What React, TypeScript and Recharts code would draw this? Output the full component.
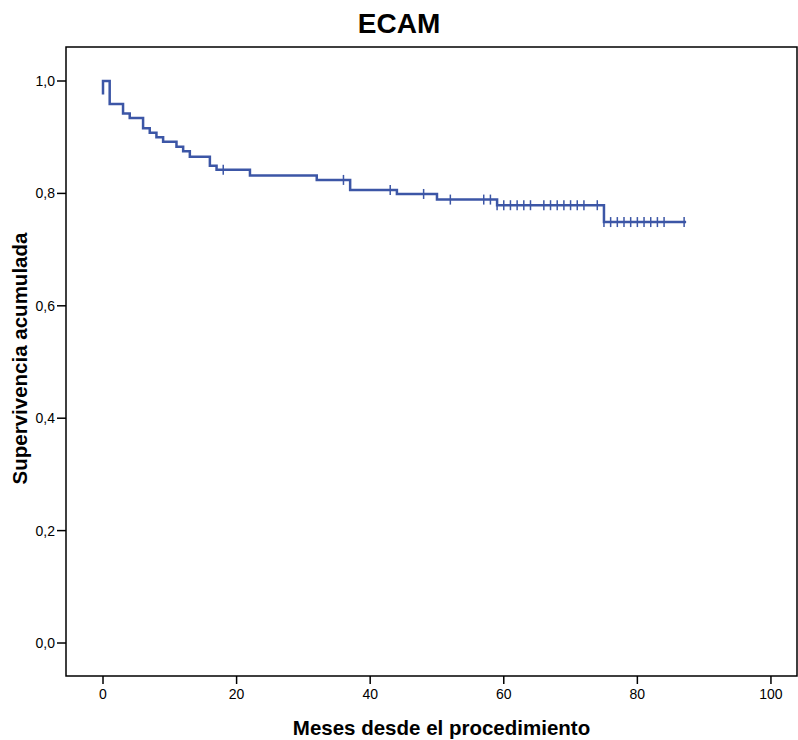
import React from "react";
import {
  ComposedChart,
  Line,
  Scatter,
  XAxis,
  YAxis,
  ReferenceArea,
  Label,
} from "recharts";

// Kaplan-Meier step events (time in months, survival after the step)
const eventTimes = [0, 0, 1, 3, 4, 6, 7, 8, 9, 11, 12, 13, 16, 17, 22, 32, 37, 44, 50, 59, 75];
const survivalValues = [
  0.976, 1.0, 0.959, 0.942, 0.934, 0.916, 0.908, 0.9, 0.892, 0.883, 0.875, 0.865, 0.849, 0.842,
  0.832, 0.824, 0.806, 0.799, 0.789, 0.779, 0.749,
];
const lastTime = 87.3;

// Censored observations (months)
const censorTimes = [
  18, 36, 43, 48, 52, 57, 58, 59, 60, 61, 62, 63, 64, 66, 67, 68, 69, 70, 71, 72, 74, 75, 76, 77,
  78, 79, 80, 81, 82, 83, 84, 87,
];

const xTicks = [0, 20, 40, 60, 80, 100];
const yTicks = [0, 0.2, 0.4, 0.6, 0.8, 1.0];

const X_DOMAIN: [number, number] = [-5.54, 103.9];
const Y_DOMAIN: [number, number] = [-0.0587, 1.0605];

const BLUE = "#3c56a6";
const FONT = "'Liberation Sans', Arial, sans-serif";
const LABEL_STYLE = { fontSize: 20.5, fontWeight: "bold" as const, fill: "#000", fontFamily: FONT };

function survivalAt(t: number): number {
  let v = survivalValues[0];
  for (let i = 0; i < eventTimes.length; i++) {
    if (eventTimes[i] <= t) v = survivalValues[i];
  }
  return v;
}

const stepData: { x: number; y: number }[] = (() => {
  const pts: { x: number; y: number }[] = [];
  pts.push({ x: eventTimes[0], y: survivalValues[0] });
  for (let i = 1; i < eventTimes.length; i++) {
    pts.push({ x: eventTimes[i], y: survivalValues[i - 1] });
    pts.push({ x: eventTimes[i], y: survivalValues[i] });
  }
  pts.push({ x: lastTime, y: survivalValues[survivalValues.length - 1] });
  return pts;
})();

const censorData = censorTimes.map((t) => ({ x: t, y: survivalAt(t) }));

const CensorMark = (props: any) => {
  const { cx, cy } = props;
  if (cx == null || cy == null) return null;
  return <line x1={cx} x2={cx} y1={cy - 5} y2={cy + 5} stroke={BLUE} strokeWidth={1.5} />;
};

const fmt = (v: number) => v.toFixed(1).replace(".", ",");

export default function App() {
  return (
    <div style={{ position: "absolute", left: 0, top: 0, width: 798, height: 740, background: "#fff" }}>
      <div
        style={{
          position: "absolute",
          left: 0,
          top: 10,
          width: 798,
          textAlign: "center",
          fontFamily: FONT,
          fontWeight: "bold",
          fontSize: 28,
          lineHeight: "28px",
          color: "#000",
        }}
      >
        ECAM
      </div>
      <ComposedChart
        width={798}
        height={740}
        margin={{ top: 47, right: 1, bottom: 0, left: 0 }}
        style={{ position: "absolute", left: 0, top: 0 }}
      >
        <XAxis
          type="number"
          dataKey="x"
          domain={X_DOMAIN}
          allowDataOverflow
          ticks={xTicks}
          height={64}
          axisLine={false}
          tickSize={8}
          tickMargin={5}
          tickLine={{ stroke: "#000", strokeWidth: 1.5 }}
          tick={{ fontSize: 14, fill: "#000", fontFamily: FONT }}
          interval={0}
        >
          <Label
            content={(p: any) => {
              const vb = p.viewBox || { x: 66, y: 676, width: 731, height: 64 };
              const cx = vb.x + vb.width / 2 + 10;
              const cy = vb.y + vb.height - 5;
              return (
                <text x={cx} y={cy} textAnchor="middle" style={LABEL_STYLE}>
                  Meses desde el procedimiento
                </text>
              );
            }}
          />
        </XAxis>
        <YAxis
          type="number"
          dataKey="y"
          domain={Y_DOMAIN}
          allowDataOverflow
          ticks={yTicks}
          width={66}
          axisLine={false}
          tickSize={9}
          tickMargin={2}
          tickFormatter={fmt}
          tickLine={{ stroke: "#000", strokeWidth: 1.5 }}
          tick={{ fontSize: 14, fill: "#000", fontFamily: FONT }}
          interval={0}
        >
          <Label
            content={(p: any) => {
              const vb = p.viewBox || { x: 0, y: 47, width: 66, height: 629 };
              const cx = 27;
              const cy = vb.y + vb.height / 2 - 3;
              return (
                <text
                  x={cx}
                  y={cy}
                  transform={`rotate(-90 ${cx} ${cy})`}
                  textAnchor="middle"
                  style={LABEL_STYLE}
                >
                  Supervivencia acumulada
                </text>
              );
            }}
          />
        </YAxis>
        <ReferenceArea
          x1={X_DOMAIN[0]}
          x2={X_DOMAIN[1]}
          y1={Y_DOMAIN[0]}
          y2={Y_DOMAIN[1]}
          fill="none"
          fillOpacity={0}
          stroke="#000"
          strokeWidth={1.5}
          ifOverflow="visible"
        />
        <Line
          data={stepData}
          dataKey="y"
          type="linear"
          stroke={BLUE}
          strokeWidth={2.5}
          dot={false}
          activeDot={false}
          isAnimationActive={false}
          strokeLinejoin="miter"
        />
        <Scatter data={censorData} dataKey="y" shape={CensorMark} isAnimationActive={false} />
      </ComposedChart>
    </div>
  );
}
